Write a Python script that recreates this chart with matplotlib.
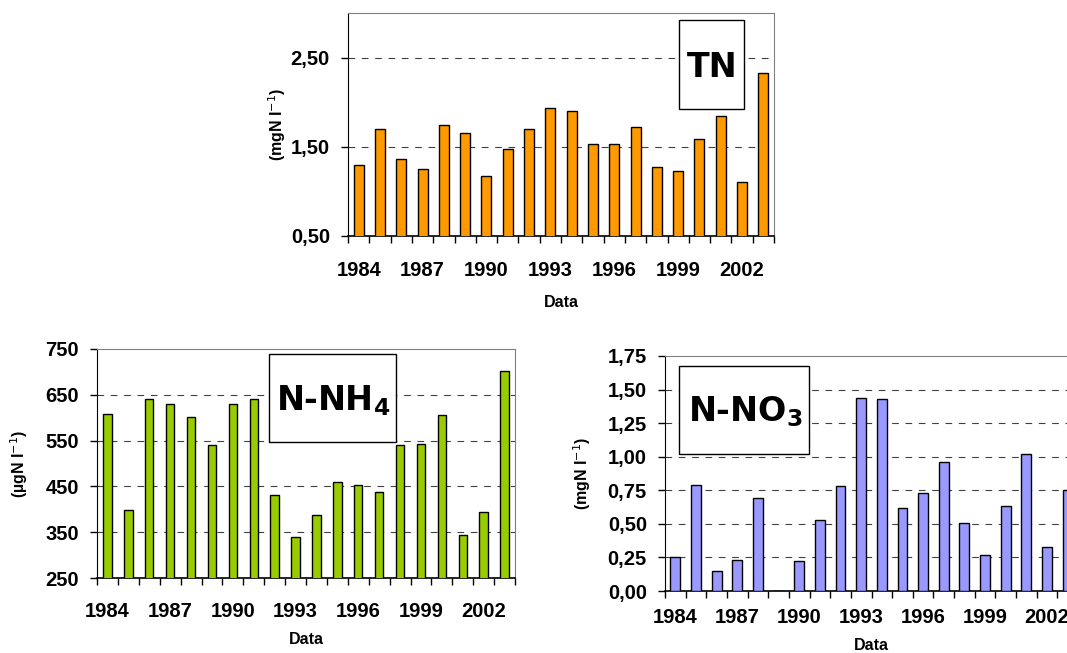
import matplotlib
matplotlib.use('Agg')
import matplotlib.pyplot as plt
import numpy as np
from matplotlib.ticker import FuncFormatter, FixedLocator
from matplotlib.patches import Rectangle

plt.rcParams['font.family'] = ['Liberation Sans', 'DejaVu Sans']

years = list(range(1984, 2004))
tn = [1.30, 1.70, 1.36, 1.25, 1.74, 1.66, 1.17, 1.47, 1.70, 1.94,
      1.90, 1.53, 1.53, 1.72, 1.27, 1.23, 1.59, 1.85, 1.10, 2.33]
nh4 = [608, 398, 641, 630, 601, 540, 630, 641, 431, 340,
       388, 460, 452, 438, 540, 543, 605, 344, 395, 703]
no3 = [0.25, 0.79, 0.15, 0.23, 0.69, 0.0, 0.22, 0.53, 0.78, 1.44,
       1.43, 0.62, 0.73, 0.96, 0.51, 0.27, 0.63, 1.02, 0.33, 0.75]

W, H = 1067.0, 653.0


def comma(dec):
    return FuncFormatter(lambda v, p: ('{:.%df}' % dec).format(v).replace('.', ','))


def draw_panel(ax, vals, color, bw, ylim, yticks, dec, ylabel, xpad, xlab_y, ylab_x):
    x = np.arange(len(years))
    ax.bar(x, vals, width=bw, color=color, edgecolor='black', linewidth=1.0, zorder=3)
    ax.set_xlim(-0.5, len(years) - 0.5)
    ax.set_ylim(*ylim)
    ax.set_yticks(yticks)
    ax.yaxis.set_major_formatter(comma(dec))
    for t in yticks:
        if t != ylim[0] and t != ylim[1]:
            ax.axhline(t, color='#404040', lw=0.8, dashes=(6, 6), zorder=1)
    ax.set_xticks(x[::3])
    ax.set_xticklabels([str(years[i]) for i in x[::3]])
    ax.xaxis.set_minor_locator(FixedLocator(np.arange(-0.5, len(years), 1.0)))
    ax.tick_params(axis='x', which='major', length=0, pad=xpad, labelsize=14.5)
    ax.tick_params(axis='x', which='minor', length=5, direction='out', width=1)
    ax.tick_params(axis='y', which='major', length=5, direction='out', width=1, pad=8, labelsize=14.5)
    for lbl in ax.get_xticklabels() + ax.get_yticklabels():
        lbl.set_fontweight('bold')
    ax.spines['top'].set_color('#808080')
    ax.spines['right'].set_color('#808080')
    ax.spines['left'].set_color('black')
    ax.spines['bottom'].set_color('black')
    ax.spines['bottom'].set_linewidth(1.2)
    ax.set_xlabel('Data', fontsize=11.5, fontweight='bold', va='top')
    ax.xaxis.set_label_coords(0.5, xlab_y)
    ax.set_ylabel(ylabel, fontsize=11.5, fontweight='bold')
    ax.yaxis.set_label_coords(ylab_x, 0.5)


def label_box(x0, y0, x1, y1, text, tx, ty):
    # box and title placed in figure pixels (top-left origin)
    fig.add_artist(Rectangle((x0 / W, 1 - y1 / H), (x1 - x0) / W, (y1 - y0) / H,
                             transform=fig.transFigure, facecolor='white',
                             edgecolor='black', lw=1.0, zorder=5))
    fig.text(tx / W, 1 - ty / H, text, fontsize=24, fontweight='bold', family='DejaVu Sans',
             ha='center', va='baseline', zorder=6)


fig = plt.figure(figsize=(10.67, 6.53), dpi=100)

ax1 = fig.add_axes([348 / W, 1 - 236 / H, 426 / W, 223 / H])
draw_panel(ax1, tn, '#FF9900', 0.47, (0.5, 3.0), [0.5, 1.5, 2.5], 2, '(mgN l$^{-1}$)',
           18, -0.265, -0.141)

ax2 = fig.add_axes([97 / W, 1 - 578 / H, 418 / W, 229 / H])
draw_panel(ax2, nh4, '#99CC00', 0.40, (250, 750), [250, 350, 450, 550, 650, 750], 0,
           '(µgN l$^{-1}$)', 17, -0.236, -0.160)

ax3 = fig.add_axes([665 / W, 1 - 591 / H, 413 / W, 235 / H])
draw_panel(ax3, no3, '#9999FF', 0.48, (0.0, 1.75), [0, 0.25, 0.5, 0.75, 1.0, 1.25, 1.5, 1.75], 2,
           '(mgN l$^{-1}$)', 12, -0.20, -0.174)

label_box(679, 20, 744, 109, 'TN', 712, 77)
label_box(269, 354, 396, 442, r'N-NH$_\mathbf{4}$', 333, 410)
label_box(679, 366, 809, 454, r'N-NO$_\mathbf{3}$', 745, 421)

fig.savefig('out.png', dpi=100)
